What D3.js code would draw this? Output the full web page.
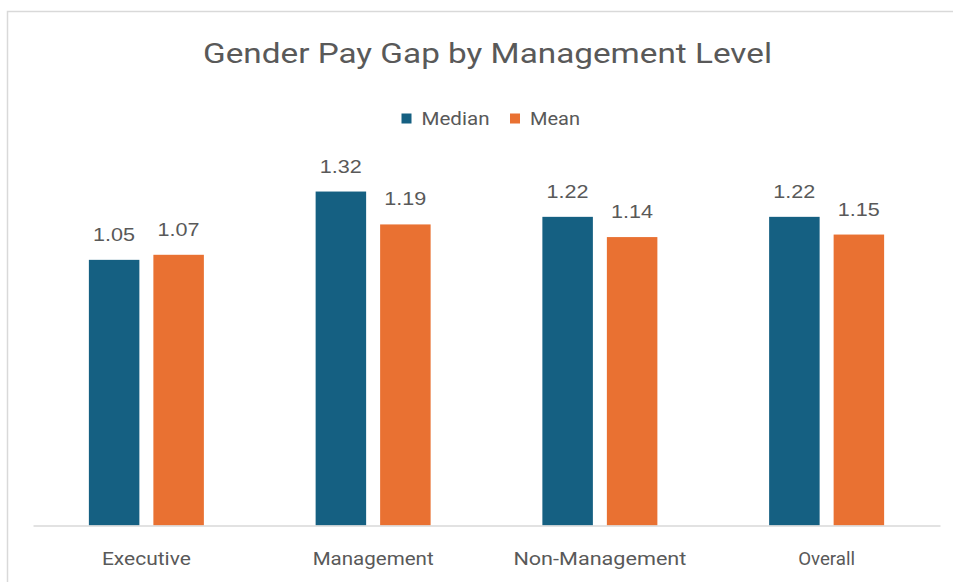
<!DOCTYPE html>
<html>
<head>
<meta charset="utf-8">
<script src="https://cdn.jsdelivr.net/npm/d3@7"></script>
<style>
  html, body { margin: 0; padding: 0; background: #ffffff; }
  svg { display: block; }
</style>
</head>
<body>
<div id="chart"></div>
<script>
const categories = ["Executive", "Management", "Non-Management", "Overall"];
const seriesNames = ["Median", "Mean"];
const medianValues = [1.05, 1.32, 1.22, 1.22];
const meanValues = [1.07, 1.19, 1.14, 1.15];
const seriesColors = ["#156082", "#E97132"];
const yDomain = [0, 1.4];
const titleText = "Gender Pay Gap by Management Level";

const W = 953, H = 582;
const textColor = "#595959";
const svg = d3.select("#chart").append("svg").attr("width", W).attr("height", H);

// chart border
svg.append("rect").attr("x", 7.5).attr("y", 11.5).attr("width", 1000).attr("height", 1000)
  .attr("fill", "#fff").attr("stroke", "#d9d9d9").attr("stroke-width", 1.5);

const plot = { left: 33, right: 940, top: 171.3, bottom: 525.5 };

const x0 = d3.scaleBand().domain(categories).range([plot.left, plot.right]).paddingInner(0).paddingOuter(0);
const groupW = 115;
const x1 = d3.scaleBand().domain(seriesNames).range([0, groupW]).paddingInner(0.217).paddingOuter(0);
const y = d3.scaleLinear().domain(yDomain).range([plot.bottom, plot.top]);

const data = categories.map((c, i) => ({
  cat: c,
  vals: [{ s: "Median", v: medianValues[i], c: seriesColors[0] },
         { s: "Mean", v: meanValues[i], c: seriesColors[1] }]
}));

const labelFont = "Roboto, 'Open Sans', sans-serif";

// title
svg.append("text").attr("x", 487.5).attr("y", 63).attr("text-anchor", "middle")
  .attr("font-family", labelFont).attr("font-size", 28)
  .attr("fill", textColor).attr("textLength", 569).attr("lengthAdjust", "spacingAndGlyphs")
  .text(titleText);

// legend
const legendItems = [
  { name: seriesNames[0], color: seriesColors[0], sx: 401.5, tx: 421.5, w: 68 },
  { name: seriesNames[1], color: seriesColors[1], sx: 510, tx: 530, w: 50 }
];
const lg = svg.append("g");
legendItems.forEach(d => {
  lg.append("rect").attr("x", d.sx).attr("y", 113.5).attr("width", 10).attr("height", 10).attr("fill", d.color);
  lg.append("text").attr("x", d.tx).attr("y", 124.5)
    .attr("font-family", labelFont).attr("font-size", 17.5)
    .attr("fill", textColor).attr("textLength", d.w).attr("lengthAdjust", "spacingAndGlyphs")
    .text(d.name);
});

// bars
const groups = svg.append("g").selectAll("g").data(data).join("g")
  .attr("transform", d => `translate(${x0(d.cat) + (x0.bandwidth() - groupW) / 2},0)`);

groups.selectAll("rect").data(d => d.vals).join("rect")
  .attr("x", d => x1(d.s)).attr("width", x1.bandwidth())
  .attr("y", d => y(d.v)).attr("height", d => y(0) - y(d.v))
  .attr("fill", d => d.c);

groups.selectAll("text").data(d => d.vals).join("text")
  .attr("x", d => x1(d.s) + x1.bandwidth() / 2)
  .attr("y", d => y(d.v) - 19)
  .attr("text-anchor", "middle")
  .attr("font-family", "'Liberation Sans', Arial, sans-serif").attr("font-size", 18)
  .attr("fill", textColor).attr("textLength", 42).attr("lengthAdjust", "spacingAndGlyphs")
  .text(d => d.v.toFixed(2));

// x axis
const xAxis = d3.axisBottom(x0).tickSize(0).tickPadding(0);
const ax = svg.append("g").attr("transform", `translate(0,${plot.bottom})`).call(xAxis);
ax.select(".domain").attr("stroke", "#d9d9d9").attr("stroke-width", 1.5);
const catWidths = { "Executive": 89, "Management": 121, "Non-Management": 173, "Overall": 57 };
ax.selectAll(".tick text")
  .attr("y", 39).attr("dy", null)
  .attr("font-family", labelFont).attr("font-size", 19)
  .attr("fill", textColor)
  .attr("textLength", d => catWidths[d]).attr("lengthAdjust", "spacingAndGlyphs");
</script>
</body>
</html>
